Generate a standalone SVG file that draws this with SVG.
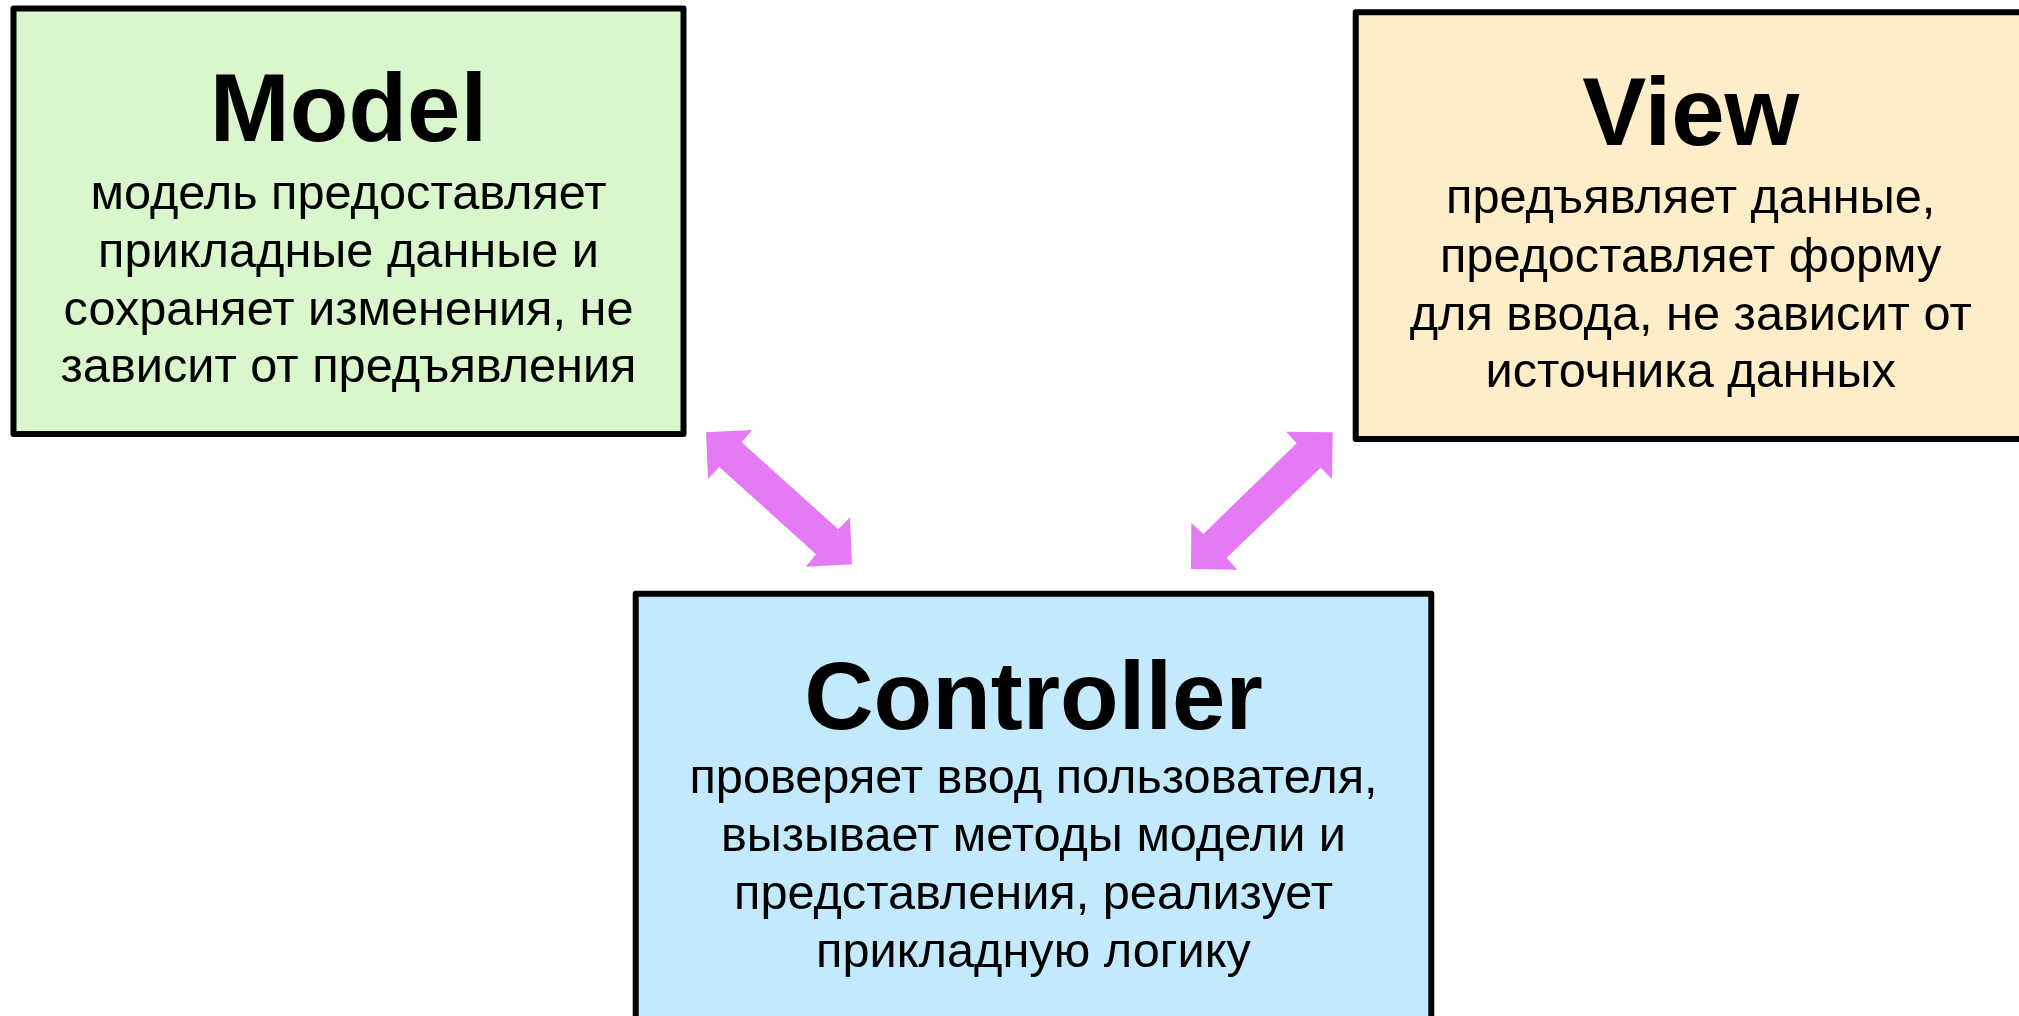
<svg xmlns="http://www.w3.org/2000/svg" width="2019" height="1016" viewBox="0 0 2019 1016">
<style>
.box{stroke:#000;stroke-width:6;stroke-linejoin:round}
.title{font-family:"Liberation Sans",Arial,sans-serif;font-weight:bold;font-size:96px;fill:#000;text-anchor:middle}
.body{font-family:"Liberation Sans",Arial,sans-serif;font-size:48.7px;fill:#000;text-anchor:middle}
.arrow{fill:#E57AF5}
</style>
<rect width="2019" height="1016" fill="#fff"/>
<g id="model">
<rect class="box" x="13.5" y="8.5" width="670" height="425.5" fill="#D9F6CC"/>
<text class="title" x="348.5" y="141">Model</text>
<text class="body" x="348.5" y="209">модель предоставляет</text>
<text class="body" x="348.5" y="267">прикладные данные и</text>
<text class="body" x="348.5" y="325">сохраняет изменения, не</text>
<text class="body" x="348.5" y="382">зависит от предъявления</text>
</g>
<g id="view">
<rect class="box" x="1355.7" y="12.3" width="670" height="426.7" fill="#FDEDC9"/>
<text class="title" x="1690.7" y="145">View</text>
<text class="body" x="1690.7" y="213">предъявляет данные,</text>
<text class="body" x="1690.7" y="272">предоставляет форму</text>
<text class="body" x="1690.7" y="330">для ввода, не зависит от</text>
<text class="body" x="1690.7" y="387">источника данных</text>
</g>
<g id="controller">
<rect class="box" x="635.7" y="593.7" width="795.6" height="440" fill="#C2EAFC"/>
<text class="title" x="1033.5" y="729">Controller</text>
<text class="body" x="1033.5" y="793">проверяет ввод пользователя,</text>
<text class="body" x="1033.5" y="851">вызывает методы модели и</text>
<text class="body" x="1033.5" y="909">представления, реализует</text>
<text class="body" x="1033.5" y="967">прикладную логику</text>
</g>
<g id="connectors">
<polygon class="arrow" points="706,432.3 752.3,430 741.7,442.3 838.3,529.3 850,517.3 852,564.3 805.7,566.7 816,554.3 719.3,467 708,479"/>
<polygon class="arrow" points="1332.7,432.3 1286,431.7 1296.7,443.3 1203.3,534 1191.3,522.7 1191,569 1237.3,569.7 1226.7,557.7 1320.7,467.7 1332,479"/>
</g>
</svg>
